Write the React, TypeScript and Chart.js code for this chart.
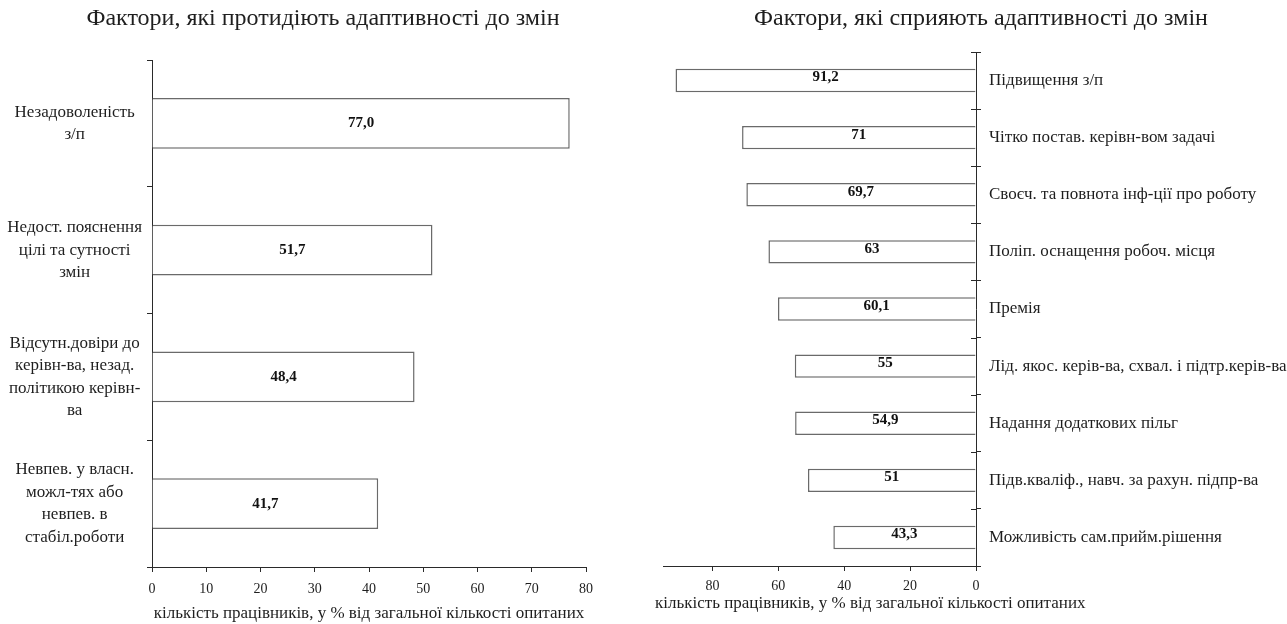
import React, { useEffect, useRef } from "react";
import { Chart, registerables } from "chart.js";

Chart.register(...registerables);

const FONT = "'Liberation Serif', 'Times New Roman', serif";
const TEXT = "#1e1e1e";
const AXIS = "#2a2a2a";
const BAR_BORDER = "#6a6a6a";

const leftTitle = "Фактори, які протидіють адаптивності до змін";
const rightTitle = "Фактори, які сприяють адаптивності до змін";
const axisTitle = "кількість працівників, у % від загальної кількості опитаних";

const leftCategories: string[][] = [
  ["Незадоволеність", "з/п"],
  ["Недост. пояснення", "цілі та сутності", "змін"],
  ["Відсутн.довіри до", "керівн-ва, незад.", "політикою керівн-", "ва"],
  ["Невпев. у власн.", "можл-тях або", "невпев. в", "стабіл.роботи"],
];
const leftValues: number[] = [77.0, 51.7, 48.4, 41.7];
const leftAxisMax = 80;
const leftAxisStep = 10;

const rightCategories: string[] = [
  "Підвищення з/п",
  "Чітко постав. керівн-вом задачі",
  "Своєч. та повнота інф-ції про роботу",
  "Поліп. оснащення робоч. місця",
  "Премія",
  "Лід. якос. керів-ва, схвал. і підтр.керів-ва",
  "Надання додаткових пільг",
  "Підв.кваліф., навч. за рахун. підпр-ва",
  "Можливість сам.прийм.рішення",
];
const rightValues: number[] = [91.2, 71, 69.7, 63, 60.1, 55, 54.9, 51, 43.3];
const rightAxisMax = 95;
const rightAxisStep = 20;

const leftValueLabels = leftValues.map((v) => v.toFixed(1).replace(".", ","));
const rightValueLabels = rightValues.map((v) => String(v).replace(".", ","));

const centerTitle = {
  id: "centerTitle",
  afterDraw(chart: any, _a: any, opts: any) {
    if (!opts || !opts.text) return;
    const ctx = chart.ctx;
    ctx.save();
    ctx.font = `${opts.size}px ${FONT}`;
    ctx.fillStyle = TEXT;
    ctx.textAlign = "center";
    ctx.textBaseline = "middle";
    ctx.fillText(opts.text, chart.width / 2 + (opts.dx || 0), opts.y);
    ctx.restore();
  },
};

const barLabels = {
  id: "barLabels",
  afterDatasetsDraw(chart: any, _a: any, opts: any) {
    const ctx = chart.ctx;
    const meta = chart.getDatasetMeta(0);
    ctx.save();
    ctx.font = `bold ${opts.size}px ${FONT}`;
    ctx.fillStyle = "#111";
    ctx.textAlign = "center";
    ctx.textBaseline = "middle";
    meta.data.forEach((el: any, i: number) => {
      const p = el.getProps(["x", "y", "base"], true);
      ctx.fillText(opts.labels[i], (p.x + p.base) / 2, p.y + (opts.dy || 0));
    });
    ctx.restore();
  },
};

const crossTicks = {
  id: "crossTicks",
  afterDraw(chart: any, _a: any, opts: any) {
    if (!opts || !opts.enabled) return;
    const s = chart.scales.y;
    const n = s.ticks.length;
    const step = (s.bottom - s.top) / n;
    const ctx = chart.ctx;
    ctx.save();
    ctx.strokeStyle = AXIS;
    ctx.lineWidth = 1;
    for (let i = 0; i <= n; i++) {
      const y = Math.round(s.top + i * step) + 0.5;
      ctx.beginPath();
      ctx.moveTo(s.left - 5, y);
      ctx.lineTo(s.left, y);
      ctx.stroke();
    }
    ctx.restore();
  },
};

const startAxisTitle = {
  id: "startAxisTitle",
  afterDraw(chart: any, _a: any, opts: any) {
    if (!opts || !opts.text) return;
    const s = chart.scales.x;
    const ctx = chart.ctx;
    ctx.save();
    ctx.font = `${opts.size}px ${FONT}`;
    ctx.fillStyle = TEXT;
    ctx.textAlign = "left";
    ctx.textBaseline = "middle";
    ctx.fillText(opts.text, s.left + opts.dx, s.bottom - opts.fromBottom);
    ctx.restore();
  },
};

function useChart(ref: React.RefObject<HTMLCanvasElement | null>, makeConfig: () => any) {
  useEffect(() => {
    if (!ref.current) return;
    const chart = new Chart(ref.current, makeConfig());
    return () => chart.destroy();
  }, []);
}

function leftConfig() {
  return {
    type: "bar",
    data: {
      labels: leftCategories,
      datasets: [
        {
          data: leftValues,
          backgroundColor: "#ffffff",
          borderColor: BAR_BORDER,
          borderWidth: 1.5,
          barPercentage: 0.4,
          categoryPercentage: 1,
        },
      ],
    },
    plugins: [barLabels, centerTitle],
    options: {
      indexAxis: "y",
      responsive: false,
      animation: false,
      layout: { padding: { left: 0, right: 60, top: 60, bottom: 0 } },
      plugins: {
        legend: { display: false },
        tooltip: { enabled: false },
        title: { display: false },
        centerTitle: { text: leftTitle, size: 24, y: 19, dx: 0 },
        barLabels: { labels: leftValueLabels, dy: 0, size: 15 },
      },
      scales: {
        x: {
          type: "linear",
          min: 0,
          max: leftAxisMax,
          ticks: { stepSize: leftAxisStep, color: TEXT, font: { family: FONT, size: 14 }, padding: 9 },
          grid: { drawOnChartArea: false, tickLength: 5, color: AXIS },
          border: { color: AXIS, width: 1 },
          title: {
            display: true,
            text: axisTitle,
            color: TEXT,
            font: { family: FONT, size: 17 },
            padding: { top: 0, bottom: 0 },
          },
          afterFit: (s: any) => {
            s.height = 57;
          },
        },
        y: {
          type: "category",
          ticks: {
            color: TEXT,
            font: { family: FONT, size: 17, lineHeight: 1.32 },
            crossAlign: "center",
            padding: 5,
          },
          grid: { drawOnChartArea: false, tickLength: 5, color: AXIS, offset: true },
          border: { color: AXIS, width: 1 },
          afterFit: (s: any) => {
            s.width = 152;
          },
        },
      },
    },
  };
}

function rightConfig() {
  return {
    type: "bar",
    data: {
      labels: rightCategories,
      datasets: [
        {
          data: rightValues,
          backgroundColor: "#ffffff",
          borderColor: BAR_BORDER,
          borderWidth: 1.5,
          barPercentage: 0.41,
          categoryPercentage: 1,
        },
      ],
    },
    plugins: [barLabels, crossTicks, startAxisTitle, centerTitle],
    options: {
      indexAxis: "y",
      responsive: false,
      animation: false,
      layout: { padding: { left: 28, right: 0, top: 52, bottom: 0 } },
      plugins: {
        legend: { display: false },
        tooltip: { enabled: false },
        title: { display: false },
        centerTitle: { text: rightTitle, size: 24, y: 19, dx: 20 },
        barLabels: { labels: rightValueLabels, dy: -3, size: 15 },
        crossTicks: { enabled: true },
        startAxisTitle: { text: axisTitle, size: 17, dx: -8, fromBottom: 20 },
      },
      scales: {
        x: {
          type: "linear",
          reverse: true,
          min: 0,
          max: rightAxisMax,
          ticks: {
            stepSize: rightAxisStep,
            includeBounds: false,
            color: TEXT,
            font: { family: FONT, size: 14 },
            padding: 7,
          },
          grid: { drawOnChartArea: false, tickLength: 5, color: AXIS },
          border: { color: AXIS, width: 1 },
          title: { display: false },
          afterFit: (s: any) => {
            s.height = 58;
          },
        },
        y: {
          type: "category",
          position: "right",
          ticks: {
            color: TEXT,
            font: { family: FONT, size: 17 },
            crossAlign: "near",
            padding: 8,
          },
          grid: { drawOnChartArea: false, tickLength: 5, color: AXIS, offset: true },
          border: { color: AXIS, width: 1 },
          afterFit: (s: any) => {
            s.width = 311;
          },
        },
      },
    },
  };
}

export default function App() {
  const leftRef = useRef<HTMLCanvasElement>(null);
  const rightRef = useRef<HTMLCanvasElement>(null);
  useChart(leftRef, leftConfig);
  useChart(rightRef, rightConfig);
  return (
    <div style={{ position: "absolute", left: 0, top: 0, width: 1287, height: 624, background: "#fff", overflow: "hidden" }}>
      <canvas ref={leftRef} width={646} height={624} style={{ position: "absolute", left: 0, top: 0, width: 646, height: 624 }} />
      <canvas ref={rightRef} width={652} height={624} style={{ position: "absolute", left: 635, top: 0, width: 652, height: 624 }} />
    </div>
  );
}
